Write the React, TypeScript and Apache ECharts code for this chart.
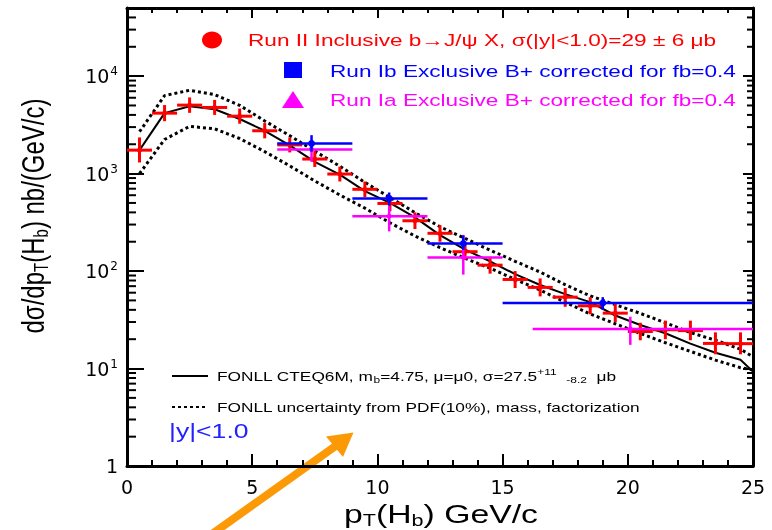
import React, { useEffect, useRef } from 'react';
import * as echarts from 'echarts';

// ---- Data ----
const binCenters = [0.5, 1.5, 2.5, 3.5, 4.5, 5.5, 6.5, 7.5, 8.5, 9.5, 10.5, 11.5, 12.5, 13.5, 14.5, 15.5, 16.5, 17.5, 18.5, 19.5, 20.5, 21.5, 22.5, 23.5, 24.5];
const binLow = [0, 1, 2, 3, 4, 5, 6, 7, 8, 9, 10, 11, 12, 13, 14, 15, 16, 17, 18, 19, 20, 21, 22, 23, 24];
const binHigh = [1, 2, 3, 4, 5, 6, 7, 8, 9, 10, 11, 12, 13, 14, 15, 16, 17, 18, 19, 20, 21, 22, 23, 24, 25];
const runIIValues = [1740, 4170, 5040, 4770, 3880, 2750, 1970, 1410, 990, 690, 494, 328, 244, 158, 115, 82, 68, 54, 44, 37, 24, 25, 24.5, 18.1, 18];
const runIILow = [1300, 3450, 4200, 4000, 3250, 2300, 1650, 1170, 830, 575, 410, 270, 200, 130, 94, 67, 55, 43, 36, 30, 19.5, 20, 19.5, 14, 14];
const runIIHigh = [2350, 5050, 6050, 5700, 4650, 3300, 2350, 1700, 1180, 830, 595, 400, 295, 192, 140, 100, 84, 67, 54, 46, 29.5, 31, 31, 23.5, 23.5];

const runIbX = [7.37, 10.47, 13.43, 19.0];
const runIbXLow = [6, 9, 12, 15];
const runIbXHigh = [9, 12, 15, 25];
const runIbValues = [2040, 556, 192, 47];
const runIbLow = [1680, 470, 165, 40];
const runIbHigh = [2480, 640, 232, 54];

const runIaX = [7.37, 10.47, 13.43, 20.1];
const runIaXLow = [6, 9, 12, 16.2];
const runIaXHigh = [9, 12, 15, 25];
const runIaValues = [1770, 366, 138, 25.5];
const runIaLow = [1320, 255, 92, 17.5];
const runIaHigh = [2220, 460, 235, 34];

const fonllX = [0.5, 1.5, 2.5, 3.5, 4.5, 5.5, 6.5, 7.5, 8.5, 9.5, 10.5, 11.5, 12.5, 13.5, 14.5, 15.5, 16.5, 17.5, 18.5, 19.5, 20.5, 21.5, 22.5, 23.5, 24.5, 25];
const fonllCentral = [1740, 4170, 4900, 4570, 3630, 2750, 1950, 1320, 977, 660, 500, 355, 234, 166, 126, 93, 72, 58, 48, 35, 28, 23, 18, 14.5, 12.3, 9.3];
const fonllUpper = [2690, 6310, 7160, 6460, 5010, 3470, 2450, 1700, 1190, 813, 569, 398, 285, 216, 164, 126, 97.7, 72.4, 55.6, 45.2, 36.8, 29.5, 23.4, 19.5, 15.8, 13.2];
const fonllLower = [1000, 2240, 3050, 2880, 2290, 1680, 1200, 841, 603, 442, 313, 229, 174, 135, 107, 82.2, 63.8, 47.9, 36.3, 28.8, 22.9, 18.4, 15.0, 12.2, 10.2, 9.7];

const yMinorTicks = [2, 3, 4, 5, 6, 7, 8, 9, 20, 30, 40, 50, 60, 70, 80, 90, 200, 300, 400, 500, 600, 700, 800, 900, 2000, 3000, 4000, 5000, 6000, 7000, 8000, 9000, 20000, 30000, 40000];

const legendRunII = 'Run II Inclusive b→J/ψ X, σ(|y|<1.0)=29 ± 6 μb';
const legendRunIb = 'Run Ib Exclusive B+ corrected for fb=0.4';
const legendRunIa = 'Run Ia Exclusive B+ corrected for fb=0.4';

const FONT = 'Liberation Sans';
const RED = '#ff0000';
const BLUE = '#0000ff';
const MAGENTA = '#ff00ff';
const ORANGE = '#fb9a06';
const SX = 1.33;

export default function App() {
  const ref = useRef<HTMLDivElement>(null);

  useEffect(() => {
    const chart = echarts.init(ref.current!, null, { renderer: 'svg' });

    const errorBarItem = (color: string, lw: number, dot: number) => (params: any, api: any) => {
      const x = api.value(0);
      const y = api.value(1);
      const c = api.coord([x, y]);
      const l = api.coord([api.value(2), y]);
      const r = api.coord([api.value(3), y]);
      const b = api.coord([x, api.value(4)]);
      const t = api.coord([x, api.value(5)]);
      return {
        type: 'group',
        children: [
          { type: 'line', shape: { x1: l[0], y1: l[1], x2: r[0], y2: r[1] }, style: { stroke: color, lineWidth: lw } },
          { type: 'line', shape: { x1: b[0], y1: b[1], x2: t[0], y2: t[1] }, style: { stroke: color, lineWidth: lw } },
          { type: 'circle', shape: { cx: c[0], cy: c[1], r: dot }, style: { fill: color } },
        ],
      };
    };

    const minorTickItem = (params: any, api: any) => {
      const v = api.value(1);
      const L = api.coord([0, v]);
      const R = api.coord([25, v]);
      return {
        type: 'group',
        children: [
          { type: 'line', shape: { x1: L[0], y1: L[1], x2: L[0] + 9, y2: L[1] }, style: { stroke: '#000', lineWidth: 2 } },
          { type: 'line', shape: { x1: R[0] - 6, y1: R[1], x2: R[0], y2: R[1] }, style: { stroke: '#000', lineWidth: 2 } },
        ],
      };
    };

    const runIIData = binCenters.map((x, i) => [x, runIIValues[i], binLow[i], binHigh[i], runIILow[i], runIIHigh[i]]);
    const runIbData = runIbX.map((x, i) => [x, runIbValues[i], runIbXLow[i], runIbXHigh[i], runIbLow[i], runIbHigh[i]]);
    const runIaData = runIaX.map((x, i) => [x, runIaValues[i], runIaXLow[i], runIaXHigh[i], runIaLow[i], runIaHigh[i]]);

    const axisLine = { show: true, onZero: false, lineStyle: { color: '#000', width: 3 } };

    const m = (size: number, color: string) => ({ fontSize: size, fontFamily: FONT, fill: color, color, lineHeight: size + 1, verticalAlign: 'middle' });
    const sub = (size: number, color: string, pad: number) => ({ fontSize: size, fontFamily: FONT, fill: color, color, lineHeight: size, padding: [pad, 0, 0, 0], verticalAlign: 'middle' });
    const sup = (size: number, color: string, pad: number) => ({ fontSize: size, fontFamily: FONT, fill: color, color, lineHeight: size, padding: [0, 0, pad, 0], verticalAlign: 'middle' });

    const option: any = {
      animation: false,
      grid: { left: 127, right: 19, top: 8, bottom: 64, containLabel: false },
      xAxis: [
        {
          type: 'value', min: 0, max: 25, interval: 5, position: 'bottom',
          axisLine,
          axisTick: { show: true, inside: true, length: 12, lineStyle: { color: '#000', width: 2 } },
          minorTick: { show: true, splitNumber: 5, length: 6, lineStyle: { color: '#000', width: 2 } },
          axisLabel: { fontSize: 19, fontFamily: 'DejaVu Sans', color: '#000', margin: 11 },
          splitLine: { show: false },
        },
        {
          type: 'value', min: 0, max: 25, interval: 5, position: 'top',
          axisLine,
          axisTick: { show: true, inside: true, length: 10, lineStyle: { color: '#000', width: 2 } },
          minorTick: { show: true, splitNumber: 5, length: 5, lineStyle: { color: '#000', width: 2 } },
          axisLabel: { show: false },
          splitLine: { show: false },
        },
      ],
      yAxis: [
        {
          type: 'log', logBase: 10, min: 1, max: 50000, position: 'left',
          axisLine,
          axisTick: { show: true, inside: true, length: 17, lineStyle: { color: '#000', width: 2 } },
          axisLabel: {
            margin: 9,
            formatter: (v: number) => {
              const lg = Math.log10(v);
              const e = Math.round(lg);
              if (Math.abs(lg - e) > 1e-6) return '';
              if (e === 0) return '{b|1}';
              return `{b|10}{p|${e}}`;
            },
            rich: {
              b: { fontSize: 19, fontFamily: 'DejaVu Sans', color: '#000', lineHeight: 20, verticalAlign: 'middle' },
              p: { fontSize: 12, fontFamily: 'DejaVu Sans', color: '#000', lineHeight: 12, padding: [0, 0, 10, 1], verticalAlign: 'middle' },
            },
          },
          splitLine: { show: false },
        },
        {
          type: 'log', logBase: 10, min: 1, max: 50000, position: 'right',
          axisLine,
          axisTick: { show: true, inside: true, length: 10, lineStyle: { color: '#000', width: 2 } },
          axisLabel: { show: false },
          splitLine: { show: false },
        },
      ],
      series: [
        {
          type: 'custom', name: 'minorTicks', silent: true, z: 1,
          data: yMinorTicks.map((v) => [0, v]),
          encode: { x: 0, y: 1 },
          renderItem: minorTickItem,
        },
        {
          type: 'line', name: 'FONLL upper', data: fonllX.map((x, i) => [x, fonllUpper[i]]),
          symbol: 'none', lineStyle: { color: '#000', width: 3, type: [3, 3], cap: 'butt' }, z: 2, silent: true,
        },
        {
          type: 'line', name: 'FONLL lower', data: fonllX.map((x, i) => [x, fonllLower[i]]),
          symbol: 'none', lineStyle: { color: '#000', width: 3, type: [3, 3], cap: 'butt' }, z: 2, silent: true,
        },
        {
          type: 'line', name: 'FONLL central', data: fonllX.map((x, i) => [x, fonllCentral[i]]),
          symbol: 'none', lineStyle: { color: '#000', width: 2 }, z: 3, silent: true,
        },
        {
          type: 'custom', name: 'Run II', data: runIIData, encode: { x: 0, y: 1 }, z: 4,
          renderItem: errorBarItem(RED, 3, 2.5),
        },
        {
          type: 'custom', name: 'Run Ia', data: runIaData, encode: { x: 0, y: 1 }, z: 5,
          renderItem: errorBarItem(MAGENTA, 2.5, 2.5),
        },
        {
          type: 'custom', name: 'Run Ib', data: runIbData, encode: { x: 0, y: 1 }, z: 6,
          renderItem: errorBarItem(BLUE, 2.5, 3.5),
        },
      ],
      graphic: [
        // legend (top)
        { type: 'ellipse', shape: { cx: 212, cy: 40, rx: 10, ry: 8.5 }, style: { fill: RED } },
        { type: 'text', x: 248, y: 40, scaleX: SX, style: { text: legendRunII, fontSize: 17, fontFamily: FONT, fill: RED, textAlign: 'left', textVerticalAlign: 'middle' } },
        { type: 'rect', shape: { x: 284, y: 62, width: 18, height: 16 }, style: { fill: BLUE } },
        { type: 'text', x: 330, y: 71, scaleX: SX, style: { text: legendRunIb, fontSize: 17, fontFamily: FONT, fill: BLUE, textAlign: 'left', textVerticalAlign: 'middle' } },
        { type: 'polygon', shape: { points: [[293, 91], [282, 108], [304, 108]] }, style: { fill: MAGENTA } },
        { type: 'text', x: 330, y: 100, scaleX: SX, style: { text: legendRunIa, fontSize: 17, fontFamily: FONT, fill: MAGENTA, textAlign: 'left', textVerticalAlign: 'middle' } },
        // legend (bottom)
        { type: 'line', shape: { x1: 172, y1: 376, x2: 208, y2: 376 }, style: { stroke: '#000', lineWidth: 2 } },
        {
          type: 'text', x: 217, y: 376, scaleX: SX,
          style: {
            text: '{m|FONLL CTEQ6M, m}{s|b}{m|=4.75, μ=μ0, σ=27.5}{p|+11}{m|  }{s|-8.2}{m|  μb}',
            textAlign: 'left', textVerticalAlign: 'middle',
            rich: { m: m(13, '#000'), s: sub(9, '#000', 8), p: sup(9, '#000', 8) },
          },
        },
        { type: 'line', shape: { x1: 172, y1: 407, x2: 208, y2: 407 }, style: { stroke: '#000', lineWidth: 2, lineDash: [3, 3] } },
        { type: 'text', x: 217, y: 407, scaleX: SX, style: { text: 'FONLL uncertainty from PDF(10%), mass, factorization', fontSize: 13, fontFamily: FONT, fill: '#000', textAlign: 'left', textVerticalAlign: 'middle' } },
        { type: 'text', x: 169, y: 431, scaleX: SX, style: { text: '|y|<1.0', fontSize: 20, fontFamily: FONT, fill: '#2222ff', textAlign: 'left', textVerticalAlign: 'middle' } },
        // axis titles
        {
          type: 'text', x: 441, y: 514, scaleX: 1.35,
          style: {
            text: '{m|p}{s|T}{m|(H}{s|b}{m|) GeV/c}',
            textAlign: 'center', textVerticalAlign: 'middle',
            rich: { m: m(25, '#000'), s: sub(16, '#000', 14) },
          },
        },
        {
          type: 'text', x: 33, y: 216, rotation: Math.PI / 2, scaleY: 1.33,
          style: {
            text: '{m|dσ/dp}{s|T}{m|(H}{s|b}{m|) nb/(GeV/c)}',
            textAlign: 'center', textVerticalAlign: 'middle',
            rich: { m: m(24, '#000'), s: sub(15, '#000', 13) },
          },
        },
        // orange arrow
        { type: 'line', shape: { x1: 198, y1: 544, x2: 337, y2: 445 }, style: { stroke: ORANGE, lineWidth: 8 } },
        { type: 'polygon', shape: { points: [[353.5, 432.5], [326, 436.5], [343, 457]] }, style: { fill: ORANGE } },
      ],
    };

    chart.setOption(option);
    return () => chart.dispose();
  }, []);

  return <div ref={ref} style={{ position: 'fixed', left: 0, top: 0, width: 772, height: 530 }} />;
}
